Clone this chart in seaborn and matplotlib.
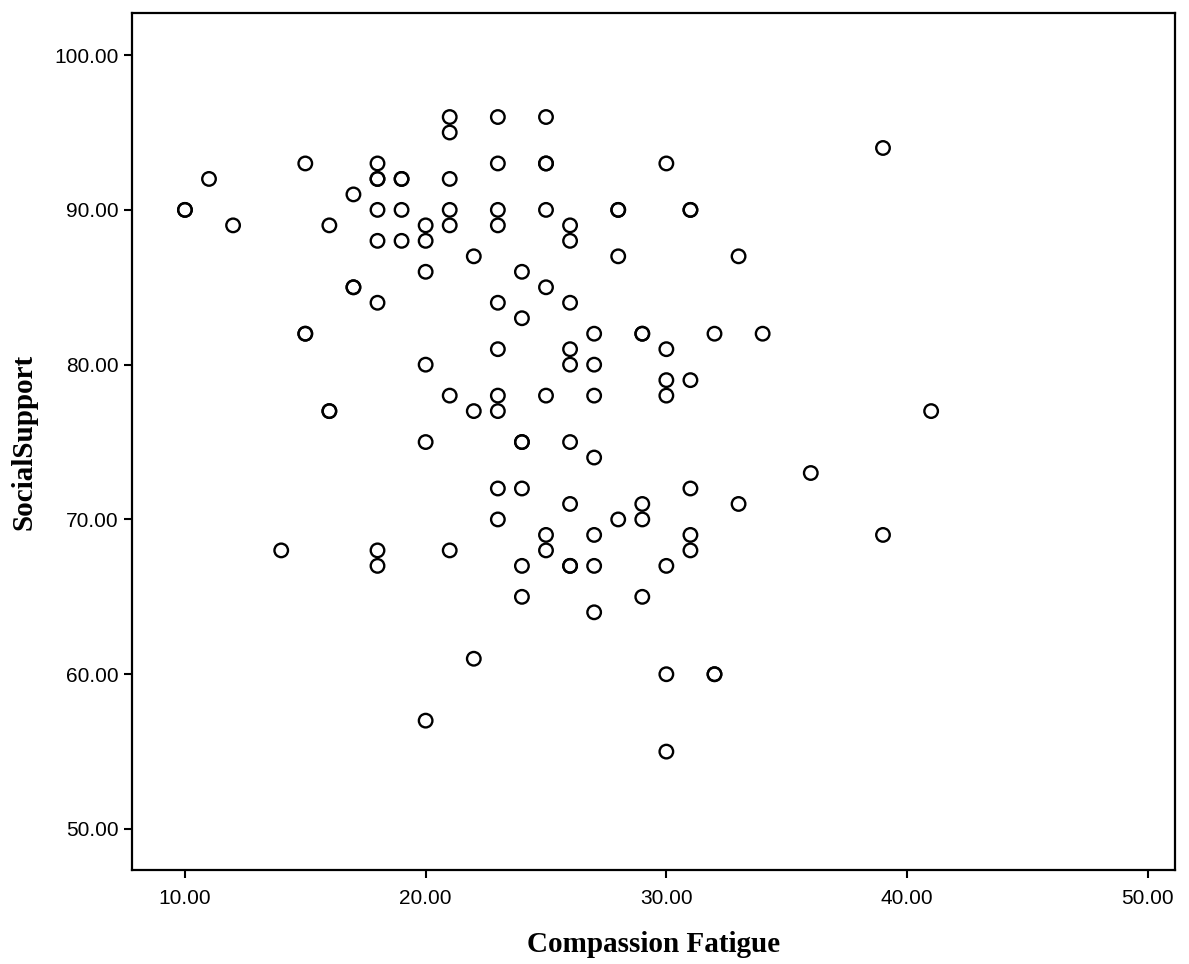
import matplotlib
matplotlib.use("Agg")
import matplotlib.pyplot as plt
import seaborn as sns
import pandas as pd

# data, grouped by SocialSupport level
fatigue = [21, 23, 25,
           21,
           39,
           15, 18, 23, 25, 25, 30,
           11, 18, 18, 19, 19, 21,
           17,
           10, 10, 18, 19, 21, 23, 25, 28, 28, 31, 31,
           12, 16, 20, 21, 23, 26,
           18, 19, 20, 26,
           22, 28, 33,
           20, 24,
           17, 17, 25,
           18, 23, 26,
           24,
           15, 15, 27, 29, 29, 32, 34,
           23, 26, 30,
           20, 26, 27,
           30, 31,
           21, 23, 25, 27, 30,
           16, 16, 22, 23, 41,
           20, 24, 24, 26,
           27,
           36,
           23, 24, 31,
           26, 29, 33,
           23, 28, 29,
           25, 27, 31, 39,
           14, 18, 21, 25, 31,
           18, 24, 26, 26, 27, 30,
           24, 29,
           27,
           22,
           30, 32, 32,
           20,
           30]
support = [96] * 3 + [95] + [94] + [93] * 6 + [92] * 6 + [91] + [90] * 11 \
    + [89] * 6 + [88] * 4 + [87] * 3 + [86] * 2 + [85] * 3 + [84] * 3 + [83] \
    + [82] * 7 + [81] * 3 + [80] * 3 + [79] * 2 + [78] * 5 + [77] * 5 \
    + [75] * 4 + [74] + [73] + [72] * 3 + [71] * 3 + [70] * 3 + [69] * 4 \
    + [68] * 5 + [67] * 6 + [65] * 2 + [64] + [61] + [60] * 3 + [57] + [55]

x_ticks = [10, 20, 30, 40, 50]
y_ticks = [50, 60, 70, 80, 90, 100]

df = pd.DataFrame({"Compassion Fatigue": fatigue, "SocialSupport": support})

sns.set_style("ticks")
plt.rcParams["font.family"] = ["Liberation Sans", "DejaVu Sans"]
plt.rcParams["text.color"] = "black"
plt.rcParams["axes.labelcolor"] = "black"
plt.rcParams["xtick.color"] = "black"
plt.rcParams["ytick.color"] = "black"

fig = plt.figure(figsize=(11.89, 9.64), dpi=100)
ax = fig.add_axes([0.111, 0.0975, 0.877, 0.889])

sns.scatterplot(data=df, x="Compassion Fatigue", y="SocialSupport", ax=ax,
                marker="o", s=95, facecolor="none", edgecolor="black",
                linewidth=1.7)

ax.set_xlim(7.8, 51.12)
ax.set_ylim(47.35, 102.72)
ax.set_xticks(x_ticks)
ax.set_yticks(y_ticks)
ax.set_xticklabels([f"{v:.2f}" for v in x_ticks])
ax.set_yticklabels([f"{v:.2f}" for v in y_ticks])
ax.tick_params(axis="both", labelsize=15, width=1.5, length=6,
               color="black", labelcolor="black")
ax.tick_params(axis="x", pad=8)

for side in ["left", "bottom", "right", "top"]:
    ax.spines[side].set_visible(True)
    ax.spines[side].set_color("black")
    ax.spines[side].set_linewidth(1.6)

ax.set_xlabel("Compassion Fatigue", family=["Liberation Serif"], fontweight="bold",
              fontsize=21, labelpad=16, color="black")
ax.set_ylabel("SocialSupport", family=["Liberation Serif"], fontweight="bold",
              fontsize=21, labelpad=12, color="black")

fig.savefig("out.png", dpi=100)
